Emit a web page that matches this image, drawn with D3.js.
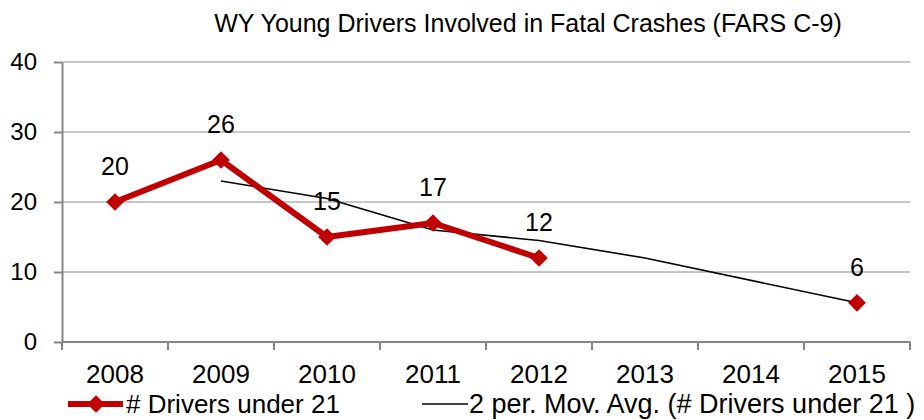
<!DOCTYPE html>
<html>
<head>
<meta charset="utf-8">
<script src="https://cdn.jsdelivr.net/npm/d3@7"></script>
<style>
  body { margin: 0; background: #fff; font-family: "Liberation Sans", Arial, sans-serif; }
</style>
</head>
<body>
<div class="chart"></div>
<script>
const years = ["2008", "2009", "2010", "2011", "2012", "2013", "2014", "2015"];
const drivers = [20, 26, 15, 17, 12, null, null, 5.6];
const movAvg = [null, 23, 20.5, 16, 14.5, 12, null, 5.6];
const yTicks = [0, 10, 20, 30, 40];

const title = "WY Young Drivers Involved in Fatal Crashes (FARS C-9)";
const seriesName = "# Drivers under 21";
const avgName = "2 per. Mov. Avg. (# Drivers under 21 )";

const W = 924, H = 420;
const margin = {top: 62, right: 14, bottom: 78, left: 62};
const red = "#c00000";
const gridColor = "#b3b3b3";
const axisColor = "#868686";

const svg = d3.select(".chart").append("svg")
    .attr("width", W)
    .attr("height", H)
    .style("font-family", '"Liberation Sans", Arial, sans-serif');

const x = d3.scaleBand()
    .domain(years)
    .range([margin.left, W - margin.right]);

const y = d3.scaleLinear()
    .domain([0, 40])
    .range([H - margin.bottom, margin.top]);

const cx = d => x(d) + x.bandwidth() / 2;

// gridlines
svg.append("g")
    .selectAll("line")
    .data(yTicks.filter(d => d > 0))
    .enter()
    .append("line")
    .attr("x1", margin.left)
    .attr("x2", W - margin.right)
    .attr("y1", d => y(d))
    .attr("y2", d => y(d))
    .attr("stroke", gridColor)
    .attr("stroke-width", 1.5);

// y axis
const yAxis = svg.append("g")
    .attr("transform", `translate(${margin.left},0)`)
    .call(d3.axisLeft(y).tickValues(yTicks).tickSize(8).tickPadding(17).tickSizeOuter(0));
yAxis.select(".domain").attr("stroke", axisColor).attr("stroke-width", 2);
yAxis.selectAll(".tick line").attr("stroke", axisColor).attr("stroke-width", 2);
yAxis.selectAll(".tick text")
    .attr("font-size", 24)
    .attr("font-family", '"Liberation Sans", Arial, sans-serif')
    .attr("fill", "#000");

// x axis: tick marks at category boundaries
const xAxisG = svg.append("g")
    .attr("transform", `translate(0,${y(0)})`);
xAxisG.append("line")
    .attr("x1", margin.left)
    .attr("x2", W - margin.right)
    .attr("stroke", axisColor)
    .attr("stroke-width", 2);
xAxisG.selectAll(".bound")
    .data(years.concat(["end"]))
    .enter()
    .append("line")
    .attr("x1", (d, i) => i < years.length ? x(d) : x(years[years.length - 1]) + x.bandwidth())
    .attr("x2", (d, i) => i < years.length ? x(d) : x(years[years.length - 1]) + x.bandwidth())
    .attr("y1", 0)
    .attr("y2", 8)
    .attr("stroke", axisColor)
    .attr("stroke-width", 2);
xAxisG.selectAll("text")
    .data(years)
    .enter()
    .append("text")
    .attr("x", d => cx(d))
    .attr("y", 41)
    .attr("text-anchor", "middle")
    .attr("font-size", 26)
    .text(d => d);

// moving average
const avgPts = years.map((d, i) => [d, movAvg[i]]).filter(p => p[1] != null);
svg.append("path")
    .datum(avgPts)
    .attr("fill", "none")
    .attr("stroke", "#000")
    .attr("stroke-width", 1.6)
    .attr("d", d3.line().x(p => cx(p[0])).y(p => y(p[1])));

// drivers series
const pts = years.map((d, i) => [d, drivers[i]]);
svg.append("path")
    .datum(pts)
    .attr("fill", "none")
    .attr("stroke", red)
    .attr("stroke-width", 6)
    .attr("stroke-linejoin", "round")
    .attr("d", d3.line().defined(p => p[1] != null).x(p => cx(p[0])).y(p => y(p[1])));

const diamond = d3.symbol().type(d3.symbolDiamond2).size(200);
svg.append("g")
    .selectAll("path")
    .data(pts.filter(p => p[1] != null))
    .enter()
    .append("path")
    .attr("d", diamond)
    .attr("transform", p => `translate(${cx(p[0])},${y(p[1])})`)
    .attr("fill", red);

// data labels
svg.append("g")
    .selectAll("text")
    .data(pts.filter(p => p[1] != null))
    .enter()
    .append("text")
    .attr("x", p => cx(p[0]))
    .attr("y", p => y(p[1]) - 27)
    .attr("text-anchor", "middle")
    .attr("font-size", 25)
    .text(p => d3.format(".0f")(p[1]));

// title
svg.append("text")
    .attr("x", 528)
    .attr("y", 32)
    .attr("text-anchor", "middle")
    .attr("font-size", 25)
    .text(title);

// legend
const leg = svg.append("g").attr("transform", "translate(0,404)");
leg.append("line")
    .attr("x1", 68).attr("x2", 123)
    .attr("stroke", red).attr("stroke-width", 6);
leg.append("path")
    .attr("d", diamond)
    .attr("transform", "translate(96,0)")
    .attr("fill", red);
leg.append("text")
    .attr("x", 126).attr("y", 9)
    .attr("font-size", 26)
    .text(seriesName);
leg.append("line")
    .attr("x1", 422).attr("x2", 468)
    .attr("stroke", "#000").attr("stroke-width", 1.6);
leg.append("text")
    .attr("x", 469).attr("y", 9)
    .attr("font-size", 27)
    .text(avgName);
</script>
</body>
</html>
